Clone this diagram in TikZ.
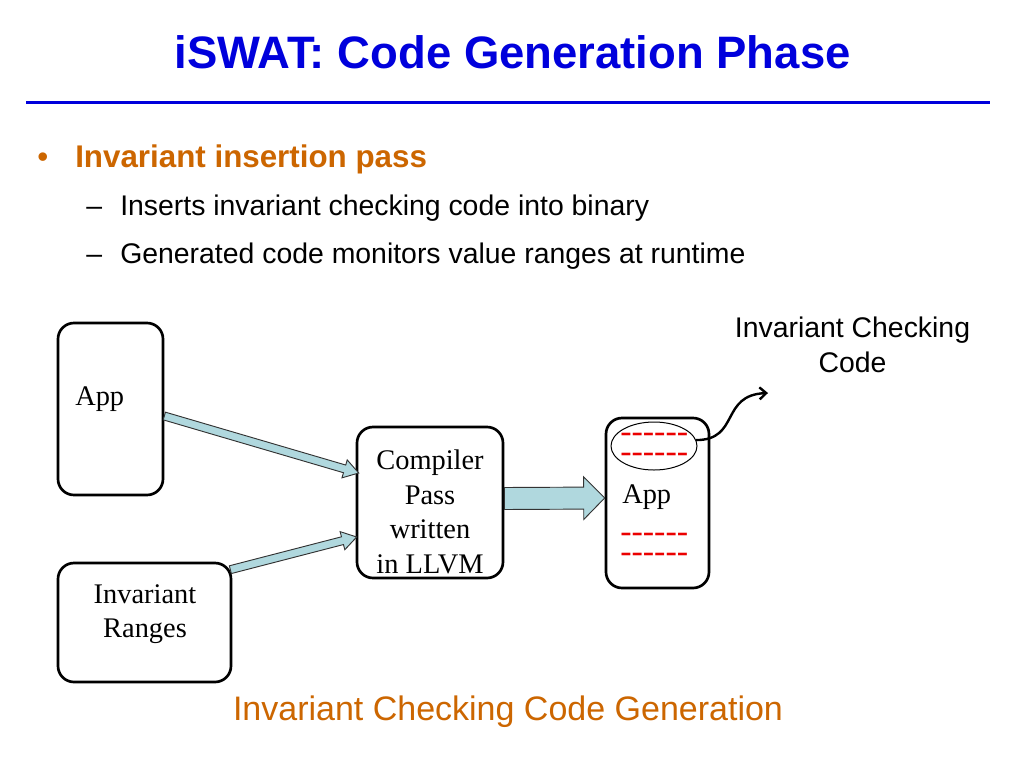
\documentclass[tikz,border=0pt]{standalone}
\usepackage{fontspec}
\setmainfont{Liberation Serif}
\setsansfont{Liberation Sans}
\usepackage{tikz}
\usetikzlibrary{arrows.meta,calc,shapes.geometric}

\definecolor{ttlblue}{RGB}{0,0,220}
\definecolor{ptorange}{RGB}{204,102,0}
\definecolor{arrowfill}{RGB}{176,216,222}
\definecolor{dashred}{RGB}{235,0,0}

% block arrow: from, to, half shaft, half head, head length
\newcommand{\blockarrow}[5]{%
  \coordinate (bh) at ($(#2)!#5!(#1)$);
  \draw[fatarrow] ($(#1)!#3!90:(#2)$) -- ($(bh)!#3!90:(#2)$) -- ($(bh)!#4!90:(#2)$) -- (#2)
    -- ($(bh)!#4!-90:(#2)$) -- ($(bh)!#3!-90:(#2)$) -- ($(#1)!#3!-90:(#2)$) -- cycle;}
% six hyphens, kept apart so they do not join into dashes
\newcommand{\hyrow}{-\kern0pt-\kern0pt-\kern0pt-\kern0pt-\kern0pt-}

\begin{document}
\begin{tikzpicture}[x=0.75pt,y=-0.75pt]
\tikzset{box/.style = {draw, line width=2pt, rounded corners=12pt, fill=white, inner sep=0pt},
  fatarrow/.style = {draw=black!80, line width=0.7pt, fill=arrowfill},
  serif/.style = {font=\fontsize{21.3}{25.9}\selectfont, inner sep=0pt},
  sans/.style = {font=\sffamily\fontsize{21.3}{25.9}\selectfont, inner sep=0pt},
  dashes/.style = {font=\fontsize{25.5}{15}\selectfont, text=dashred, inner sep=0pt, align=left, anchor=south west},
  curly/.style = {line width=1.8pt, -{Straight Barb[length=5pt,width=9pt]}}}
\fill[white] (0,0) rectangle (1024,768);
\useasboundingbox (0,0) rectangle (1024,768);

% heading
\node[font=\sffamily\bfseries\fontsize{34.1}{40}\selectfont, text=ttlblue, anchor=base, inner sep=0pt] (ttl) at (512.5,68) {iSWAT: Code Generation Phase};
\coordinate (rulel) at (26,102);
\coordinate (ruler) at (990,102);
\draw[ttlblue, line width=2.25pt] (rulel) -- (ruler);

% bullets
\node[font=\sffamily\fontsize{23.5}{28}\selectfont, text=ptorange, anchor=base west, inner sep=0pt] (dot) at (37,167) {•};
\node[font=\sffamily\bfseries\fontsize{23.5}{28}\selectfont, text=ptorange, anchor=base west, inner sep=0pt] (pass) at (75,167) {Invariant insertion pass};
\node[sans, anchor=base west] (dash1) at (86,215) {–};
\node[sans, anchor=base west] (item1) at (120,215) {Inserts invariant checking code into binary};
\node[sans, anchor=base west] (dash2) at (86,263) {–};
\node[sans, anchor=base west] (item2) at (120,263) {Generated code monitors value ranges at runtime};

% boxes
\node[box, minimum width=78.75pt, minimum height=129pt] (app) at (110.5,409) {};
\node[box, minimum width=129.75pt, minimum height=89.25pt] (rng) at (144.5,622.5) {};
\node[box, minimum width=109.5pt, minimum height=113.25pt] (llvm) at (430,502.5) {};
\node[box, minimum width=77.25pt, minimum height=127.5pt] (bin) at (657.5,503) {};

\node[serif, anchor=base west] (applbl) at (75,405) {App};
\node[serif, align=center] (rnglbl) at (145,614) {Invariant\\Ranges};
\node[serif, align=center] (llvmlbl) at (430,512) {Compiler\\Pass\\written\\in LLVM};
\node[serif, anchor=base west] (binlbl) at (622,503) {App};

% inserted code
\node[dashes] (dtop) at (620,463) {\hyrow\\\hyrow};
\node[dashes] (dbot) at (620,563) {\hyrow\\\hyrow};
\node[draw, ellipse, line width=0.75pt, minimum width=64.5pt, minimum height=36pt, inner sep=0pt] (chk) at (654,446) {};

% arrows
\blockarrow{$(app.east)+(0,7)$}{$(llvm.west)+(3,-29.5)$}{3pt}{7pt}{11pt}
\blockarrow{$(rng.north east)+(-2,8)$}{$(llvm.west)+(1,34.5)$}{3pt}{7pt}{11pt}
\blockarrow{$(llvm.east)+(0,-4)$}{$(bin.west)+(0,-5)$}{8.25pt}{16pt}{15.75pt}

\node[sans, align=center, font=\sffamily\fontsize{21.3}{26.25}\selectfont] (chklbl) at (852.5,345) {Invariant Checking\\Code};
\coordinate (chktip) at (768,393);
\draw[curly] (chk.8) .. controls (740,440) and (720,395) .. (chktip);

% caption
\node[font=\sffamily\fontsize{25.5}{30}\selectfont, text=ptorange, anchor=base, inner sep=0pt] (cap) at (508,720) {Invariant Checking Code Generation};
\end{tikzpicture}
\end{document}
